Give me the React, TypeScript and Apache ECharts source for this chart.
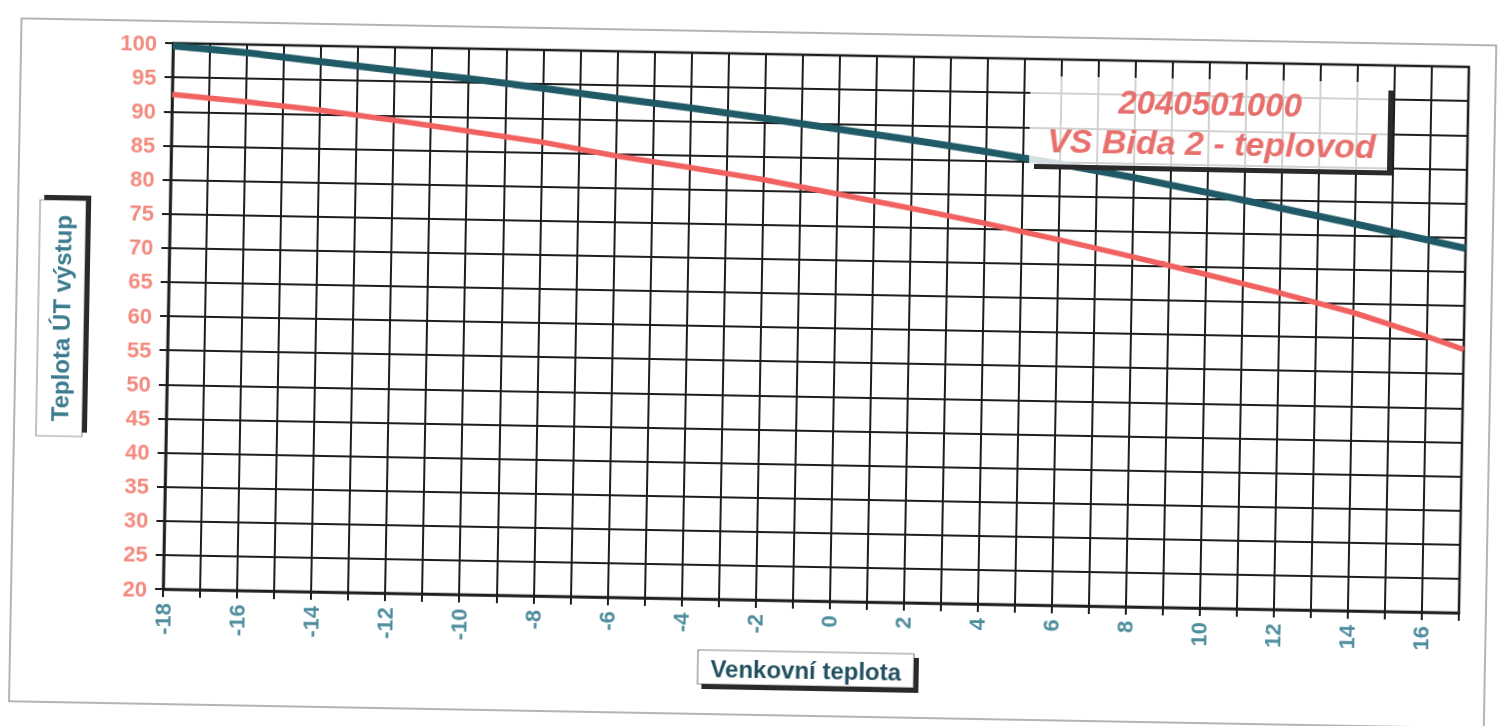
import React, { useEffect, useRef } from "react";
import * as echarts from "echarts";

// Outdoor temperature (°C) at which the curves were read
const outdoorTemps = [-18, -16, -14, -12, -10, -8, -6, -4, -2, 0, 2, 4, 6, 8, 10, 12, 14, 16, 17];
// Upper curve (dark teal)
const supplyUpper = [99.6, 98.8, 97.7, 96.6, 95.6, 94.4, 93.1, 91.9, 90.6, 89.2, 87.8, 86.3, 84.7, 82.9, 80.9, 78.8, 76.7, 74.5, 73.4];
// Lower curve (salmon red)
const supplyLower = [92.5, 91.6, 90.6, 89.3, 87.9, 86.5, 84.7, 83.2, 81.6, 79.7, 77.8, 75.8, 73.6, 71.3, 68.9, 66.4, 63.7, 60.4, 58.6];

const xTickLabels = [-18, -16, -14, -12, -10, -8, -6, -4, -2, 0, 2, 4, 6, 8, 10, 12, 14, 16];
const xMin = -18;
const xMax = 17;
const yMin = 20;
const yMax = 100;
const yStep = 5;

const titleLine1 = "2040501000";
const titleLine2 = "VS Bida 2 - teplovod";
const xAxisTitle = "Venkovní teplota";
const yAxisTitle = "Teplota ÚT výstup";

const FONT = "'Liberation Sans', Arial, sans-serif";

export default function App() {
  const ref = useRef<HTMLDivElement>(null);

  useEffect(() => {
    if (!ref.current) return;
    const chart = echarts.init(ref.current, null, { renderer: "svg" });
    const gridColor = "#1e1e1e";
    const option: any = {
      animation: false,
      backgroundColor: "#ffffff",
      grid: {
        left: 168,
        top: 55,
        right: 40,
        bottom: 125,
        containLabel: false,
        show: true,
        borderColor: gridColor,
        borderWidth: 2.5,
      },
      xAxis: {
        type: "value",
        min: xMin,
        max: xMax,
        interval: 1,
        axisLine: { show: true, onZero: false, lineStyle: { color: gridColor, width: 2.5 } },
        axisTick: { show: true, length: 8, lineStyle: { color: gridColor, width: 2 } },
        splitLine: { show: true, lineStyle: { color: gridColor, width: 2 } },
        axisLabel: {
          rotate: 90,
          margin: 14,
          color: "#4e8d9d",
          fontSize: 22,
          fontWeight: "bold",
          fontFamily: FONT,
          showMinLabel: true,
          showMaxLabel: true,
          formatter: (v: number) => (xTickLabels.includes(v) ? String(v) : ""),
        },
      },
      yAxis: {
        type: "value",
        min: yMin,
        max: yMax,
        interval: yStep,
        axisLine: { show: true, onZero: false, lineStyle: { color: gridColor, width: 2.5 } },
        axisTick: { show: true, length: 8, lineStyle: { color: gridColor, width: 2 } },
        splitLine: { show: true, lineStyle: { color: gridColor, width: 2 } },
        axisLabel: {
          margin: 16,
          color: "#f38a7e",
          fontSize: 22,
          fontWeight: "bold",
          fontFamily: FONT,
        },
      },
      series: [
        {
          type: "line",
          data: outdoorTemps.map((x, i) => [x, supplyLower[i]]),
          showSymbol: false,
          lineStyle: { color: "#f0615f", width: 5.5 },
          z: 3,
        },
        {
          type: "line",
          data: outdoorTemps.map((x, i) => [x, supplyUpper[i]]),
          showSymbol: false,
          lineStyle: { color: "#1f5a66", width: 7 },
          z: 4,
        },
      ],
      graphic: [
        // scanned page frame
        {
          type: "rect",
          z: -5,
          silent: true,
          shape: { x: 16, y: 33, width: 1475, height: 683 },
          style: { fill: "none", stroke: "#9c9c9c", lineWidth: 1.5 },
        },
        // title box
        {
          type: "rect",
          z: 20,
          shape: { x: 1026, y: 72, width: 358, height: 88 },
          style: { fill: "rgba(255,255,255,0.8)", stroke: "none" },
        },
        { type: "rect", z: 21, shape: { x: 1384, y: 80, width: 5, height: 85 }, style: { fill: "#2a2a2a" } },
        { type: "rect", z: 21, shape: { x: 1031, y: 160, width: 358, height: 5 }, style: { fill: "#2a2a2a" } },
        {
          type: "text",
          z: 22,
          x: 1206,
          y: 96,
          style: {
            text: titleLine1,
            fill: "#e8706c",
            fontSize: 33,
            fontWeight: "bold",
            fontStyle: "italic",
            fontFamily: FONT,
            textAlign: "center",
            textVerticalAlign: "middle",
          },
        },
        {
          type: "text",
          z: 22,
          x: 1208,
          y: 136,
          style: {
            text: titleLine2,
            fill: "#e8706c",
            fontSize: 34,
            fontWeight: "bold",
            fontStyle: "italic",
            fontFamily: FONT,
            textAlign: "center",
            textVerticalAlign: "middle",
          },
        },
        // x axis title box
        {
          type: "rect",
          z: 20,
          shape: { x: 704, y: 652, width: 216, height: 34 },
          style: { fill: "#ffffff", stroke: "#8a8a8a", lineWidth: 1.2 },
        },
        { type: "rect", z: 21, shape: { x: 920, y: 656, width: 5, height: 35 }, style: { fill: "#2a2a2a" } },
        { type: "rect", z: 21, shape: { x: 708, y: 686, width: 217, height: 5 }, style: { fill: "#2a2a2a" } },
        {
          type: "text",
          z: 22,
          x: 812,
          y: 670,
          style: {
            text: xAxisTitle,
            fill: "#22505e",
            fontSize: 24,
            fontWeight: "bold",
            fontFamily: FONT,
            textAlign: "center",
            textVerticalAlign: "middle",
          },
        },
        // y axis title box
        {
          type: "rect",
          z: 20,
          shape: { x: 38, y: 214, width: 46, height: 236 },
          style: { fill: "#ffffff", stroke: "#9a9a9a", lineWidth: 1.2 },
        },
        { type: "rect", z: 21, shape: { x: 42, y: 209, width: 47, height: 5 }, style: { fill: "#2a2a2a" } },
        { type: "rect", z: 21, shape: { x: 84, y: 209, width: 5, height: 237 }, style: { fill: "#2a2a2a" } },
        {
          type: "text",
          z: 22,
          x: 61,
          y: 332,
          rotation: Math.PI / 2,
          style: {
            text: yAxisTitle,
            fill: "#3a7b8d",
            fontSize: 24,
            fontWeight: "bold",
            fontFamily: FONT,
            textAlign: "center",
            textVerticalAlign: "middle",
          },
        },
      ],
    };
    chart.setOption(option);
    return () => chart.dispose();
  }, []);

  return (
    <div
      ref={ref}
      style={{
        position: "fixed",
        left: 0,
        top: 0,
        width: 1504,
        height: 726,
        transform: "rotate(1.05deg)",
        transformOrigin: "816px 328px",
      }}
    />
  );
}
